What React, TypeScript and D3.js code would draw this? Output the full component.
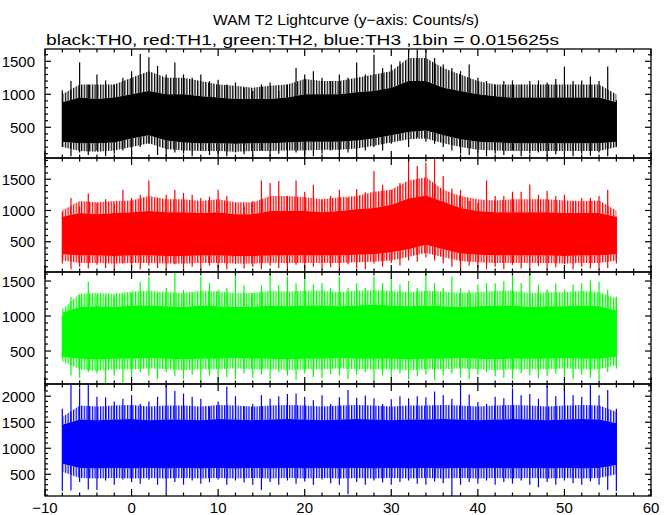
import React, { useRef, useEffect } from 'react';
import * as d3 from 'd3';

// 1 s grid for spike extremes, 2 s grid for the dense body and its fringe
const SECONDS = d3.range(-8, 57, 1);
const SECONDS_2 = d3.range(-8, 57, 2);

// TH0 (black)
const TH0_HI = [1060, 1200, 1480, 1150, 1300, 1210, 1150, 1250, 1350, 1610, 1560, 1430, 1300, 1480, 1300, 1250, 1300, 1200, 1220, 1150, 1180, 1100, 1050, 1150, 1180, 1050, 1150, 1400, 1300, 1350, 1250, 1200, 1300, 1250, 1480, 1300, 1600, 1400, 1450, 1500, 1680, 1680, 1680, 1550, 1450, 1400, 1350, 1450, 1250, 1200, 1150, 1200, 1210, 1150, 1200, 1210, 1180, 1230, 1420, 1200, 1210, 1270, 1200, 1420, 910];
const TH0_LO = [200, 60, 120, 80, 150, 60, 100, 150, 60, 200, 250, 80, 60, 120, 100, 60, 150, 80, 100, 60, 120, 90, 60, 150, 70, 100, 60, 120, 80, 60, 100, 150, 70, 120, 60, 150, 200, 150, 250, 300, 200, 350, 280, 250, 200, 150, 100, 80, 120, 60, 100, 80, 150, 60, 100, 120, 60, 90, 150, 60, 100, 70, 120, 60, 200];
const TH0_TOP = [880, 950, 930, 950, 1000, 1050, 1000, 1000, 970, 950, 930, 930, 930, 950, 1000, 1000, 1000, 1030, 1050, 1100, 1200, 1200, 1100, 1050, 1000, 970, 950, 950, 950, 950, 950, 950, 880];
const TH0_BOT = [280, 260, 260, 270, 330, 380, 300, 270, 260, 260, 250, 260, 260, 270, 280, 280, 280, 300, 330, 380, 430, 450, 380, 320, 280, 270, 260, 260, 260, 260, 260, 260, 280];
const TH0_FUP = [1000, 1150, 1150, 1150, 1250, 1350, 1250, 1250, 1200, 1150, 1130, 1100, 1130, 1150, 1230, 1200, 1200, 1250, 1300, 1350, 1550, 1550, 1400, 1300, 1200, 1150, 1150, 1150, 1150, 1150, 1150, 1150, 1000];
const TH0_FDN = [200, 140, 130, 150, 200, 260, 170, 150, 140, 140, 130, 140, 140, 150, 150, 160, 160, 180, 220, 270, 320, 330, 260, 200, 160, 150, 140, 140, 140, 140, 140, 140, 200];

// TH1 (red)
const TH1_HI = [980, 1200, 1065, 1270, 1120, 1180, 1100, 1330, 1200, 1250, 1480, 1200, 1250, 1330, 1280, 1250, 1200, 1220, 1330, 1230, 1120, 1065, 1150, 1480, 1440, 1470, 1230, 1480, 1300, 1410, 1170, 1230, 1330, 1200, 1345, 1290, 1630, 1410, 1330, 1440, 1817, 1710, 1763, 1830, 1550, 1350, 1330, 1150, 1120, 1480, 1230, 1230, 1300, 1300, 1415, 1250, 1310, 1230, 1250, 1150, 1200, 1200, 1230, 1330, 900];
const TH1_LO = [150, 60, 100, 70, 130, 80, 60, 150, 90, 60, 120, 80, 60, 140, 70, 100, 60, 120, 80, 60, 150, 70, 100, 60, 120, 80, 60, 130, 70, 100, 60, 90, 60, 140, 80, 60, 150, 100, 160, 120, 200, 180, 250, 200, 150, 100, 60, 120, 80, 60, 100, 60, 130, 70, 60, 110, 60, 90, 140, 60, 100, 70, 60, 80, 150];
const TH1_TOP = [900, 960, 940, 960, 970, 990, 970, 970, 960, 970, 940, 940, 990, 990, 990, 970, 990, 1020, 1040, 1090, 1190, 1240, 1140, 1040, 990, 970, 970, 970, 970, 960, 960, 960, 900];
const TH1_BOT = [300, 280, 280, 270, 280, 280, 270, 270, 280, 280, 270, 270, 280, 280, 280, 280, 280, 290, 300, 330, 380, 450, 380, 310, 290, 280, 280, 280, 280, 270, 280, 280, 300];
const TH1_FUP = [1000, 1150, 1130, 1150, 1160, 1230, 1180, 1180, 1150, 1180, 1130, 1130, 1230, 1230, 1210, 1180, 1210, 1230, 1300, 1330, 1480, 1530, 1330, 1230, 1180, 1160, 1180, 1180, 1180, 1160, 1150, 1160, 1000];
const TH1_FDN = [200, 160, 160, 150, 160, 160, 150, 150, 160, 160, 150, 150, 160, 160, 160, 160, 160, 170, 180, 200, 260, 320, 250, 190, 170, 160, 160, 160, 160, 150, 160, 160, 200];

// TH2 (green)
const TH2_HI = [1000, 1276, 1300, 1490, 1300, 1276, 1276, 1300, 1330, 1490, 1560, 1330, 1400, 1620, 1370, 1340, 1560, 1470, 1370, 1400, 1620, 1440, 1330, 1440, 1620, 1440, 1560, 1470, 1620, 1450, 1470, 1400, 1560, 1400, 1470, 1400, 1560, 1470, 1560, 1450, 1500, 1400, 1620, 1470, 1400, 1560, 1400, 1370, 1450, 1470, 1470, 1500, 1620, 1470, 1620, 1450, 1380, 1470, 1380, 1450, 1470, 1510, 1490, 1380, 1276];
const TH2_LO = [400, 150, 120, 200, 180, 40, 150, 40, 130, 200, 150, 100, 200, 140, 100, 160, 60, 150, 60, 130, 100, 180, 120, 160, 100, 200, 150, 90, 180, 130, 110, 170, 150, 100, 160, 200, 80, 150, 120, 180, 100, 140, 160, 90, 150, 180, 120, 100, 160, 200, 140, 120, 100, 180, 150, 110, 140, 180, 130, 100, 160, 120, 90, 200, 250];
const TH2_TOP = [1050, 1130, 1140, 1130, 1150, 1150, 1140, 1130, 1150, 1140, 1130, 1130, 1150, 1140, 1150, 1150, 1140, 1150, 1160, 1150, 1140, 1150, 1140, 1130, 1140, 1150, 1150, 1130, 1140, 1140, 1150, 1140, 1080];
const TH2_BOT = [420, 390, 380, 390, 390, 400, 390, 380, 390, 390, 400, 390, 390, 380, 390, 390, 400, 390, 390, 390, 380, 390, 390, 400, 390, 380, 390, 390, 390, 400, 390, 390, 420];
const TH2_FUP = [1100, 1320, 1330, 1320, 1350, 1360, 1340, 1330, 1360, 1350, 1330, 1330, 1360, 1350, 1360, 1360, 1340, 1360, 1370, 1360, 1340, 1360, 1350, 1330, 1340, 1360, 1360, 1330, 1340, 1340, 1360, 1340, 1250];
const TH2_FDN = [350, 240, 220, 240, 240, 250, 240, 230, 240, 240, 250, 240, 240, 230, 240, 240, 250, 240, 240, 240, 230, 240, 240, 250, 240, 230, 240, 240, 240, 250, 240, 240, 300];

// TH3 (blue)
const TH3_HI = [1760, 2225, 2150, 2225, 1990, 1980, 1900, 1950, 2020, 1850, 1900, 1990, 2225, 2100, 2050, 1990, 1950, 1800, 1900, 2180, 2000, 1800, 1850, 2020, 1950, 2000, 2040, 2050, 1990, 1920, 2020, 1850, 1980, 2120, 1970, 2010, 1960, 1850, 1940, 2000, 1960, 2000, 1980, 2090, 2020, 1950, 2210, 2030, 1890, 1850, 1990, 1960, 2150, 2020, 2040, 1950, 2195, 2000, 2230, 2020, 1990, 2220, 2020, 2120, 1760];
const TH3_LO = [180, 190, 350, 210, 200, 380, 300, 400, 350, 320, 400, 300, 150, 350, 300, 380, 320, 350, 400, 300, 380, 340, 300, 200, 350, 300, 380, 320, 360, 300, 400, 330, 300, 115, 350, 300, 380, 340, 300, 350, 380, 320, 300, 360, 330, 84, 300, 350, 320, 380, 300, 350, 320, 380, 300, 250, 350, 300, 380, 330, 300, 360, 300, 200, 180];
const TH3_TOP = [1450, 1550, 1540, 1550, 1560, 1540, 1550, 1550, 1540, 1560, 1550, 1540, 1550, 1560, 1550, 1540, 1550, 1560, 1550, 1540, 1550, 1550, 1560, 1550, 1540, 1550, 1560, 1550, 1540, 1550, 1560, 1550, 1480];
const TH3_BOT = [700, 620, 610, 620, 610, 620, 610, 620, 610, 620, 610, 620, 610, 620, 610, 620, 610, 620, 610, 620, 610, 620, 610, 620, 610, 620, 610, 620, 610, 620, 610, 620, 680];
const TH3_FUP = [1600, 1820, 1800, 1820, 1830, 1800, 1820, 1820, 1800, 1830, 1820, 1800, 1820, 1830, 1820, 1800, 1820, 1830, 1820, 1800, 1820, 1820, 1830, 1820, 1800, 1820, 1830, 1820, 1800, 1820, 1830, 1820, 1700];
const TH3_FDN = [550, 430, 420, 430, 420, 430, 420, 430, 420, 430, 420, 430, 420, 430, 420, 430, 420, 430, 420, 430, 420, 430, 420, 430, 420, 430, 420, 430, 420, 430, 420, 430, 500];

const X_LABELS = [-10, 0, 10, 20, 30, 40, 50, 60];
const Y_LABELS_LOW = [500, 1000, 1500];
const Y_LABELS_HIGH = [500, 1000, 1500, 2000];

const TITLE = 'WAM T2 Lightcurve (y\u2212axis: Counts/s)';
const SUBTITLE = 'black:TH0, red:TH1, green:TH2, blue:TH3 ,1bin = 0.015625s';

interface Panel {
  color: string;
  hi: number[];
  lo: number[];
  top: number[];
  bot: number[];
  fup: number[];
  fdn: number[];
  domain: [number, number];
  labels: number[];
}

const PANELS: Panel[] = [
  { color: '#000000', hi: TH0_HI, lo: TH0_LO, top: TH0_TOP, bot: TH0_BOT, fup: TH0_FUP, fdn: TH0_FDN, domain: [35, 1686], labels: Y_LABELS_LOW },
  { color: '#ff0000', hi: TH1_HI, lo: TH1_LO, top: TH1_TOP, bot: TH1_BOT, fup: TH1_FUP, fdn: TH1_FDN, domain: [16, 1839], labels: Y_LABELS_LOW },
  { color: '#00ff00', hi: TH2_HI, lo: TH2_LO, top: TH2_TOP, bot: TH2_BOT, fup: TH2_FUP, fdn: TH2_FDN, domain: [29, 1629], labels: Y_LABELS_LOW },
  { color: '#0000ff', hi: TH3_HI, lo: TH3_LO, top: TH3_TOP, bot: TH3_BOT, fup: TH3_FUP, fdn: TH3_FDN, domain: [83, 2234], labels: Y_LABELS_HIGH },
];

const WIDTH = 672;
const HEIGHT = 515;
const EDGES = [49, 158, 272, 384, 496];
const LEFT = 45;
const RIGHT = 651;
const FONT = "'Liberation Sans', Arial, Helvetica, sans-serif";

const App: React.FC = () => {
  const svgRef = useRef<SVGSVGElement>(null);

  useEffect(() => {
    if (!svgRef.current) return;
    const svg = d3.select(svgRef.current);
    svg.selectAll('*').remove();

    const x = d3.scaleLinear().domain([-10, 60]).range([LEFT, RIGHT]);
    const defs = svg.append('defs');

    // Titles
    svg.append('text')
      .attr('x', 346)
      .attr('y', 25)
      .attr('text-anchor', 'middle')
      .attr('textLength', 266)
      .attr('lengthAdjust', 'spacingAndGlyphs')
      .style('font-family', FONT)
      .style('font-size', '15px')
      .text(TITLE);

    svg.append('text')
      .attr('x', 46)
      .attr('y', 44.5)
      .attr('textLength', 513)
      .attr('lengthAdjust', 'spacingAndGlyphs')
      .style('font-family', FONT)
      .style('font-size', '15px')
      .text(SUBTITLE);

    const xTicks = d3.range(-10, 61, 2);

    PANELS.forEach((p, i) => {
      const top = EDGES[i];
      const bottom = EDGES[i + 1];
      const y = d3.scaleLinear().domain(p.domain).range([bottom, top]);

      const clipId = `clip-${i}`;
      defs.append('clipPath').attr('id', clipId)
        .append('rect')
        .attr('x', LEFT).attr('y', top)
        .attr('width', RIGHT - LEFT).attr('height', bottom - top);

      // vertical hatch, stands in for the dense thin bins at the edges
      const patId = `hatch-${i}`;
      const pat = defs.append('pattern')
        .attr('id', patId)
        .attr('patternUnits', 'userSpaceOnUse')
        .attr('width', 2.7)
        .attr('height', 20);
      pat.append('rect')
        .attr('x', 0).attr('y', 0)
        .attr('width', 1.3).attr('height', 20)
        .style('fill', p.color);

      const g = svg.append('g').attr('clip-path', `url(#${clipId})`);

      const band = (lower: number[], upper: number[]) => d3.area<number>()
        .x((_, k) => x(SECONDS_2[k]))
        .y0((_, k) => y(lower[k]))
        .y1((_, k) => y(upper[k]))(SECONDS_2);

      // fringe above and below the body
      g.append('path').attr('d', band(p.top, p.fup)).style('fill', `url(#${patId})`);
      g.append('path').attr('d', band(p.fdn, p.bot)).style('fill', `url(#${patId})`);

      // dense body of the curve
      g.append('path').attr('d', band(p.bot, p.top)).style('fill', p.color);

      // spike extremes
      g.selectAll('line.spike')
        .data(SECONDS)
        .enter()
        .append('line')
        .attr('class', 'spike')
        .attr('x1', d => x(d))
        .attr('x2', d => x(d))
        .attr('y1', (_, k) => y(p.lo[k]))
        .attr('y2', (_, k) => y(p.hi[k]))
        .style('stroke', p.color)
        .style('stroke-width', 1.2);

      // frame
      svg.append('rect')
        .attr('x', LEFT).attr('y', top)
        .attr('width', RIGHT - LEFT).attr('height', bottom - top)
        .style('fill', 'none')
        .style('stroke', 'black')
        .style('stroke-width', 1.3);

      // x ticks, top and bottom, pointing inward
      xTicks.forEach(t => {
        const len = t % 10 === 0 ? 7 : 3.5;
        svg.append('line')
          .attr('x1', x(t)).attr('x2', x(t))
          .attr('y1', bottom).attr('y2', bottom - len)
          .style('stroke', 'black').style('stroke-width', 1.2);
        svg.append('line')
          .attr('x1', x(t)).attr('x2', x(t))
          .attr('y1', top).attr('y2', top + len)
          .style('stroke', 'black').style('stroke-width', 1.2);
      });

      // y ticks, left and right
      const yTicks = d3.range(Math.ceil(p.domain[0] / 100) * 100, p.domain[1], 100);
      yTicks.forEach(v => {
        const len = v % 500 === 0 ? 6 : 3;
        svg.append('line')
          .attr('x1', LEFT).attr('x2', LEFT + len)
          .attr('y1', y(v)).attr('y2', y(v))
          .style('stroke', 'black').style('stroke-width', 1.2);
        svg.append('line')
          .attr('x1', RIGHT).attr('x2', RIGHT - len)
          .attr('y1', y(v)).attr('y2', y(v))
          .style('stroke', 'black').style('stroke-width', 1.2);
      });

      // y labels
      p.labels.forEach(v => {
        svg.append('text')
          .attr('x', 35)
          .attr('y', y(v) + 5.5)
          .attr('text-anchor', 'end')
          .style('font-family', FONT)
          .style('font-size', '15px')
          .text(String(v));
      });
    });

    // x labels under the last panel
    X_LABELS.forEach(t => {
      svg.append('text')
        .attr('x', x(t))
        .attr('y', 513)
        .attr('text-anchor', 'middle')
        .style('font-family', FONT)
        .style('font-size', '15px')
        .text(t < 0 ? `\u2212${Math.abs(t)}` : String(t));
    });
  }, []);

  return (
    <svg
      ref={svgRef}
      width={WIDTH}
      height={HEIGHT}
      style={{ position: 'absolute', left: 0, top: 0, background: 'white' }}
    />
  );
};

export default App;
